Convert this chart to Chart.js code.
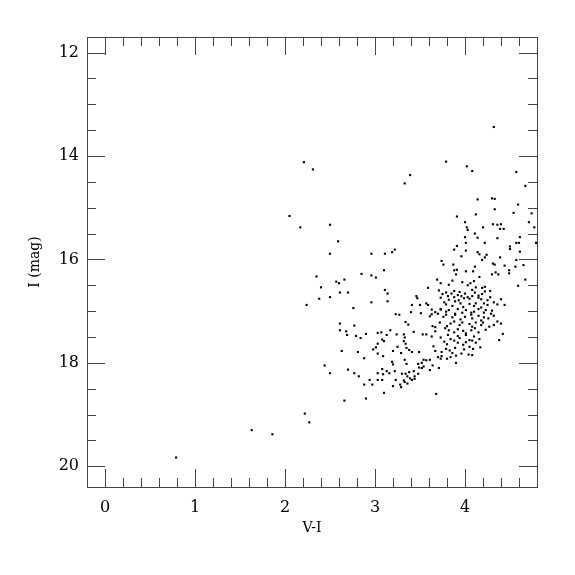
<!DOCTYPE html>
<html>
<head>
<meta charset="utf-8">
<script src="https://cdn.jsdelivr.net/npm/chart.js@4.4.0/dist/chart.umd.min.js"></script>
<style>
  html, body { margin: 0; padding: 0; background: #fff; }
</style>
</head>
<body>
<canvas id="cmd" width="575" height="575"></canvas>
<script>
// colour (V-I) and magnitude (I) of every star
const vi = [
  0.79, 1.63, 1.86, 2.22, 2.27, 2.21, 2.31, 2.05, 2.17, 2.50, 2.59, 2.50, 2.35, 2.40, 2.57, 2.60,
  2.66, 2.61, 2.70, 2.38, 2.50, 2.24, 2.96, 2.76, 2.61, 2.77, 2.61, 2.68, 2.69, 2.79, 2.84, 2.90,
  3.03, 3.03, 3.01, 2.98, 3.03, 2.63, 2.81, 2.88, 2.44, 2.50, 2.70, 2.77, 2.82, 3.03, 2.94, 3.03,
  2.88, 2.97, 2.90, 2.66, 2.96, 3.11, 3.10, 2.85, 2.96, 3.01, 3.11, 3.14, 3.14, 3.07, 3.13, 3.08,
  3.10, 3.09, 3.08, 3.13, 3.09, 3.16, 3.10, 3.19, 3.22, 3.39, 3.33, 3.79, 4.02, 4.08, 4.57, 4.32,
  4.67, 4.14, 4.30, 4.33, 4.59, 4.33, 4.54, 4.74, 3.91, 4.12, 4.00, 4.31, 4.36, 4.40, 4.71, 4.02,
  4.03, 4.20, 4.39, 4.43, 4.77, 4.11, 4.00, 4.14, 4.36, 4.61, 4.01, 4.22, 4.57, 4.60, 4.79, 3.91,
  3.88, 4.01, 4.50, 4.50, 4.61, 4.14, 4.16, 3.96, 4.39, 4.24, 4.22, 4.19, 4.31, 4.33, 4.44, 4.56,
  4.65, 3.74, 3.76, 3.87, 4.11, 3.88, 3.91, 4.01, 4.09, 3.90, 4.30, 4.34, 4.37, 4.49, 4.49, 4.16,
  4.67, 3.69, 3.73, 3.59, 3.82, 3.86, 3.97, 4.03, 4.10, 4.19, 4.22, 4.08, 4.28, 4.59, 3.46, 3.47,
  4.06, 4.12, 4.57,
  3.71, 3.75, 3.79, 3.85, 3.88, 3.92, 3.94, 3.96, 4.00, 4.05, 4.11, 4.15, 4.19, 4.22,
  3.73, 3.81, 3.82, 3.88, 3.93, 3.99, 4.03, 4.08, 4.15, 4.18, 4.25, 4.28, 4.40,
  3.77, 3.79, 3.86, 3.89, 3.95, 3.98, 4.05, 4.10, 4.12, 4.18, 4.21, 4.25, 4.32, 4.36, 4.44,
  3.73, 3.79, 3.82, 3.89, 3.92, 3.97, 4.01, 4.07, 4.10, 4.15, 4.21, 4.23, 4.29, 4.30,
  3.76, 3.79, 3.86, 3.89, 3.95, 4.00, 4.07, 4.08, 4.15, 4.18, 4.21, 4.26, 4.32,
  3.72, 3.80, 3.84, 3.88, 3.94, 3.97, 4.05, 4.08, 4.12, 4.18, 4.20, 4.27, 4.32, 4.36, 4.40,
  3.78, 3.82, 3.88, 3.92, 3.98, 4.01, 4.07, 4.11, 4.15, 4.23,
  3.73, 3.81, 3.84, 3.92, 3.94, 4.01, 4.05, 4.10, 4.16, 4.42,
  3.77, 3.80, 3.88, 3.92, 3.98, 4.01, 4.08, 4.12, 4.38,
  3.74, 3.79, 3.83, 3.89, 3.99, 4.05, 4.09, 4.17, 3.74, 3.86, 3.90, 3.96, 4.04, 4.08, 3.90, 3.73,
  3.23, 3.27, 3.40, 3.51, 3.61, 3.63, 3.67, 3.34, 3.37, 3.64, 3.67, 3.17, 3.24, 3.32, 3.33, 3.32,
  3.34, 3.43, 3.53, 3.57, 3.63, 3.67, 3.25, 3.35, 3.38, 3.29, 3.20, 3.41, 3.49, 3.65, 3.67, 3.70,
  3.19, 3.20, 3.33, 3.35, 3.48, 3.52, 3.54, 3.57, 3.61, 3.64, 3.80, 3.84, 3.22, 3.30, 3.34, 3.38,
  3.43, 3.36, 3.49, 3.52, 3.54, 3.48, 3.61, 3.23, 3.32, 3.41, 3.44, 3.28, 3.33, 3.20, 3.68, 3.71,
  3.36, 3.29, 3.08,
  3.41, 3.50, 3.57, 3.59, 3.44, 3.39, 3.63, 3.70, 3.73
];
const mag = [
  19.83, 19.30, 19.38, 18.98, 19.15, 14.12, 14.26, 15.16, 15.38, 15.33, 15.65, 15.89, 16.33, 16.54, 16.43, 16.46,
  16.39, 16.64, 16.64, 16.76, 16.73, 16.88, 16.83, 16.94, 17.24, 17.28, 17.37, 17.39, 17.46, 17.48, 17.52, 17.44,
  17.42, 17.63, 17.70, 17.74, 17.82, 17.77, 17.79, 17.91, 18.05, 18.20, 18.13, 18.20, 18.26, 18.20, 18.33, 18.33,
  18.42, 18.42, 18.69, 18.73, 15.89, 15.89, 16.21, 16.28, 16.31, 16.35, 16.59, 16.66, 16.81, 17.41, 17.46, 17.55,
  17.58, 17.87, 18.12, 18.16, 18.22, 18.20, 18.58, 15.86, 15.81, 14.37, 14.53, 14.11, 14.20, 14.29, 14.31, 13.44,
  14.58, 14.84, 14.82, 14.83, 14.94, 15.03, 15.10, 15.11, 15.17, 15.13, 15.28, 15.32, 15.33, 15.32, 15.28, 15.38,
  15.43, 15.38, 15.41, 15.41, 15.38, 15.50, 15.57, 15.58, 15.59, 15.57, 15.68, 15.68, 15.68, 15.68, 15.68, 15.74,
  15.81, 15.83, 15.75, 15.80, 15.85, 15.86, 15.90, 15.94, 15.96, 15.91, 15.96, 16.01, 16.08, 16.10, 16.12, 16.14,
  16.11, 16.03, 16.10, 16.10, 16.14, 16.21, 16.20, 16.23, 16.23, 16.29, 16.29, 16.25, 16.29, 16.27, 16.21, 16.34,
  16.39, 16.39, 16.46, 16.55, 16.49, 16.41, 16.44, 16.50, 16.42, 16.55, 16.53, 16.59, 16.61, 16.51, 16.71, 16.75,
  16.46, 16.54, 16.01,
  16.60, 16.67, 16.64, 16.66, 16.61, 16.69, 16.63, 16.71, 16.66, 16.76, 16.64, 16.70, 16.67, 16.62,
  16.74, 16.71, 16.78, 16.73, 16.79, 16.75, 16.73, 16.71, 16.74, 16.77, 16.79, 16.73, 16.77,
  16.83, 16.87, 16.90, 16.81, 16.85, 16.92, 16.86, 16.90, 16.85, 16.93, 16.85, 16.88, 16.83, 16.87, 16.88,
  16.96, 17.01, 16.98, 17.05, 16.96, 17.03, 16.98, 17.03, 17.01, 16.96, 17.03, 16.98, 17.05, 16.99,
  17.11, 17.07, 17.12, 17.07, 17.16, 17.11, 17.07, 17.14, 17.09, 17.18, 17.12, 17.14, 17.09,
  17.22, 17.29, 17.24, 17.20, 17.27, 17.22, 17.25, 17.30, 17.22, 17.27, 17.22, 17.30, 17.27, 17.20, 17.24,
  17.33, 17.37, 17.41, 17.35, 17.38, 17.43, 17.37, 17.33, 17.41, 17.36,
  17.51, 17.46, 17.54, 17.48, 17.52, 17.46, 17.56, 17.49, 17.54, 17.44,
  17.59, 17.64, 17.57, 17.61, 17.65, 17.60, 17.57, 17.61, 17.56,
  17.79, 17.73, 17.76, 17.71, 17.74, 17.69, 17.73, 17.70, 17.87, 17.81, 17.86, 17.82, 17.84, 17.85, 18.00, 17.92,
  17.06, 17.07, 17.02, 17.04, 17.10, 17.06, 17.02, 17.21, 17.26, 17.29, 17.31, 17.37, 17.45, 17.45, 17.51, 17.58,
  17.63, 17.40, 17.45, 17.45, 17.49, 17.39, 17.69, 17.71, 17.75, 17.81, 17.77, 17.79, 17.79, 17.68, 17.77, 17.89,
  17.98, 18.03, 17.94, 18.02, 18.02, 18.00, 17.94, 17.95, 17.94, 18.05, 17.92, 17.89, 18.16, 18.21, 18.21, 18.18,
  18.16, 18.26, 18.09, 18.10, 18.07, 18.21, 18.14, 18.33, 18.34, 18.33, 18.31, 18.42, 18.37, 18.45, 18.60, 18.10,
  18.40, 18.47, 18.33,
  16.88, 16.88, 16.85, 16.88, 18.26, 18.30, 16.97, 17.05, 16.97
];
const xTickLabels = [0, 1, 2, 3, 4];
const yTickLabels = [12, 14, 16, 18, 20];

const points = vi.map((v, i) => ({ x: v, y: mag[i] }));
const isOn = (v, list) => list.some(l => Math.abs(l - v) < 1e-6);
const serif = "'DejaVu Serif', 'Liberation Serif', serif";

// ticks pointing inward on all four sides, plus the box
const innerTicks = {
  id: 'innerTicks',
  afterDraw(chart) {
    const { ctx, chartArea: a, scales: { x, y } } = chart;
    ctx.save();
    ctx.strokeStyle = '#444';
    ctx.lineWidth = 1;
    ctx.beginPath();
    x.ticks.forEach(t => {
      const px = Math.round(x.getPixelForValue(t.value)) + 0.5;
      const len = isOn(t.value, xTickLabels) ? 18 : 9;
      ctx.moveTo(px, a.bottom); ctx.lineTo(px, a.bottom - len);
      ctx.moveTo(px, a.top); ctx.lineTo(px, a.top + len);
    });
    y.ticks.forEach(t => {
      const py = Math.round(y.getPixelForValue(t.value)) + 0.5;
      const len = isOn(t.value, yTickLabels) ? 18 : 9;
      ctx.moveTo(a.left, py); ctx.lineTo(a.left + len, py);
      ctx.moveTo(a.right, py); ctx.lineTo(a.right - len, py);
    });
    ctx.stroke();
    ctx.strokeRect(Math.round(a.left) + 0.5, Math.round(a.top) + 0.5,
      Math.round(a.right - a.left), Math.round(a.bottom - a.top));
    ctx.restore();
  }
};

new Chart(document.getElementById('cmd'), {
  type: 'scatter',
  data: {
    datasets: [{
      data: points,
      backgroundColor: '#000',
      borderWidth: 0,
      pointStyle: 'rect',
      pointRadius: 1.5,
    }],
  },
  options: {
    responsive: false,
    animation: false,
    devicePixelRatio: 1,
    layout: { padding: { top: 37, right: 38, left: 0, bottom: 0 } },
    plugins: { legend: { display: false }, tooltip: { enabled: false } },
    scales: {
      x: {
        type: 'linear',
        min: -0.2,
        max: 4.8,
        grid: { display: false, drawTicks: false },
        border: { display: false },
        ticks: {
          stepSize: 0.2,
          includeBounds: false,
          autoSkip: false,
          maxRotation: 0,
          padding: 11,
          color: '#000',
          font: { family: serif, size: 16 },
          callback: (v) => isOn(v, xTickLabels) ? String(Math.round(v)) : '',
        },
        title: {
          display: true,
          text: 'V-I',
          color: '#000',
          font: { family: serif, size: 14 },
          padding: { top: 0, bottom: 38 },
        },
        afterFit: (s) => { s.height = 88; },
      },
      y: {
        type: 'linear',
        reverse: true,
        min: 11.7,
        max: 20.4,
        grid: { display: false, drawTicks: false },
        border: { display: false },
        ticks: {
          stepSize: 0.5,
          includeBounds: false,
          autoSkip: false,
          padding: 8,
          color: '#000',
          font: { family: serif, size: 16 },
          callback: (v) => isOn(v, yTickLabels) ? String(Math.round(v)) : '',
        },
        title: {
          display: true,
          text: 'I (mag)',
          color: '#000',
          font: { family: serif, size: 14 },
          padding: { top: 27, bottom: 0 },
        },
        afterFit: (s) => { s.width = 87; },
      },
    },
  },
  plugins: [innerTicks],
});
</script>
</body>
</html>
